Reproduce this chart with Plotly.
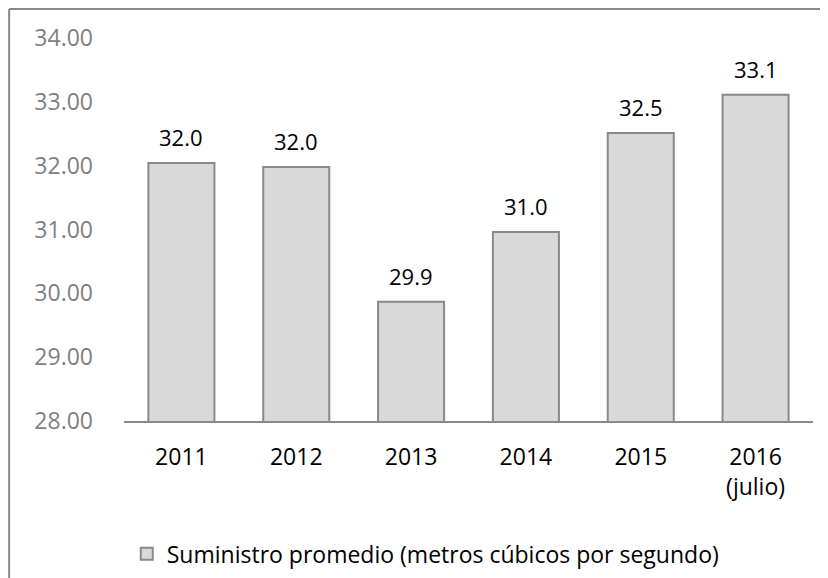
import plotly.graph_objects as go

# Data
years = ['2011', '2012', '2013', '2014', '2015', '2016<br>(julio)']
suministro = [32.04, 31.98, 29.87, 30.96, 32.51, 33.11]
serie_nombre = 'Suministro promedio (metros cúbicos por segundo)'
y_ticks = [28, 29, 30, 31, 32, 33, 34]

font_family = 'Open Sans, Noto Sans, sans-serif'

fig = go.Figure()
fig.add_trace(go.Bar(
    x=years, y=suministro,
    name=serie_nombre,
    marker_color='#d9d9d9',
    marker_line_color='#898989',
    marker_line_width=2,
    width=0.575,
))

# data labels above bars (x given as category index, '2011' would be read as a number)
for i, v in enumerate(suministro):
    fig.add_annotation(
        x=i, y=v, text='%.1f' % v,
        showarrow=False, yanchor='bottom', yshift=9,
        font=dict(size=22, color='#000000', family=font_family),
    )

# chart border: page is offset 8px by the body margin, so border sits at the figure edge
fig.add_shape(type='line', xref='paper', yref='paper',
              x0=-0.1667, x1=-0.1667, y0=-0.45, y1=1.076,
              line=dict(color='#898989', width=2), layer='below')
fig.add_shape(type='line', xref='paper', yref='paper',
              x0=-0.1667, x1=1.04, y0=1.076, y1=1.076,
              line=dict(color='#898989', width=2), layer='below')

# width 812 = window minus the 2x8px body margin, so nothing overflows sideways
fig.update_layout(
    width=812, height=578,
    margin=dict(l=115.5, r=6.5, t=30, b=165),
    plot_bgcolor='white',
    paper_bgcolor='white',
    font=dict(family=font_family, size=22, color='#000000'),
    bargap=0.425,
    showlegend=True,
    legend=dict(
        orientation='h', x=0.004, xanchor='left',
        y=-0.347, yanchor='middle',
        font=dict(size=23, color='#000000'),
        itemwidth=30,
    ),
)

fig.update_yaxes(
    range=[28, 34], tickvals=y_ticks, tickformat='.2f',
    showgrid=False, zeroline=False, showline=False,
    ticks='', ticklabelstandoff=30, automargin=False,
    tickfont=dict(size=23, color='#7f7f7f'),
)
fig.update_xaxes(
    type='category', range=[-0.5, len(years) - 0.5],
    showline=True, linecolor='#898989', linewidth=2,
    ticks='', ticklabelstandoff=14, automargin=False,
    tickfont=dict(size=23, color='#000000'),
)

fig.write_html("out.html",
               post_script="document.documentElement.style.overflow='hidden';document.body.style.overflow='hidden';")
